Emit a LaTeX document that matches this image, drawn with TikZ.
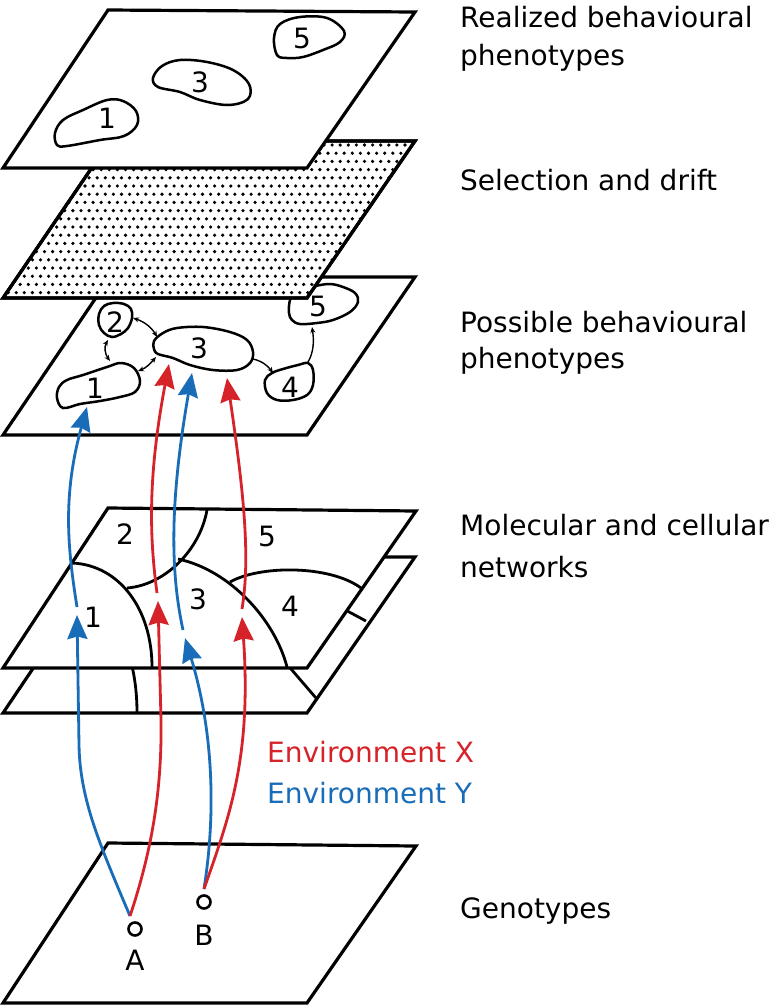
\documentclass[tikz,border=0pt]{standalone}
\usepackage{fontspec}
\setmainfont{DejaVu Sans}
\usetikzlibrary{arrows.meta}
\definecolor{envred}{RGB}{214,35,42}
\definecolor{envblue}{RGB}{25,108,184}
\tikzset{
  plane/.style={draw=black, line width=3.2pt, fill=white, line join=miter},
  blob/.style={draw=black, line width=2.5pt, fill=white},
  netline/.style={draw=black, line width=2.8pt},
  digit/.style={font=\fontsize{28}{32}\selectfont, inner sep=0pt},
  lab/.style={font=\fontsize{28}{32}\selectfont, anchor=base west, inner sep=0pt},
  envarrow/.style={line width=2.8pt, -{Stealth[length=24pt,width=20pt,inset=2.5pt]}},
  xarr/.style={envarrow, draw=envred},
  yarr/.style={envarrow, draw=envblue},
  thinline/.style={line width=1.4pt, draw=black},
  onehead/.style={thinline, -{Stealth[length=6pt,width=5pt]}},
  twoheads/.style={thinline, {Stealth[length=6pt,width=5pt]}-{Stealth[length=6pt,width=5pt]}},
  genedot/.style={draw=black, circle, line width=2.6pt, minimum size=13pt, inner sep=0pt, fill=white}
}
\begin{document}
\begin{tikzpicture}[x=1pt,y=-1pt]
\useasboundingbox[fill=white] (0,0) rectangle (770,1005);

% ---------------- Plane 3: possible behavioural phenotypes
\draw[plane] (110,277) -- (415,277) -- (307,435) -- (3,435) -- cycle;
% blob 5 (partly hidden by dotted plane)
\draw[blob] plot[smooth cycle, tension=0.6] coordinates {(290,300) (289,313) (292,320) (300,324) (317,323) (333,320) (350,312) (358,302) (355,293) (343,287) (330,284) (315,286) (296,290)};
\node[digit] (q5) at (318,306) {5};
% blob 2
\draw[blob] plot[smooth cycle, tension=0.6] coordinates {(99,314) (104,306) (113,303) (124,304) (131,309) (132,318) (128,328) (121,334) (112,337) (104,333) (99,325)};
\node[digit] (q2) at (115,322) {2};
% blob 1
\draw[blob] plot[smooth cycle, tension=0.6] coordinates {(57,398) (59,387) (67,380) (83,375) (107,367) (121,363) (134,368) (140,381) (135,392) (120,397) (100,401) (80,404) (63,408)};
\node[digit] (q1) at (95,388) {1};
% blob 3
\draw[blob] plot[smooth cycle, tension=0.6] coordinates {(154,349) (154,341) (163,333) (177,328) (203,327) (230,332) (247,340) (253,352) (250,363) (237,370) (213,370) (190,365) (173,358) (158,354)};
\node[digit] (q3) at (199,348) {3};
% blob 4
\draw[blob] plot[smooth cycle, tension=0.6] coordinates {(265,380) (272,373) (283,369) (298,365) (308,363) (313,370) (313,385) (307,395) (293,400) (277,400) (267,393)};
\node[digit] (q4) at (290,387) {4};
% transitions between possible phenotypes
\coordinate (t2a) at (133,318); \coordinate (t3a) at (157,337);
\coordinate (t2b) at (108,340); \coordinate (t1b) at (110,361);
\coordinate (t1c) at (138,371); \coordinate (t3c) at (156,357);
\coordinate (t3d) at (253,359); \coordinate (t4d) at (273,373);
\coordinate (t4e) at (308,362); \coordinate (t5e) at (312,327);
\draw[twoheads] (t2a) .. controls (145,322) and (152,328) .. (t3a);
\draw[twoheads] (t2b) .. controls (104,347) and (105,354) .. (t1b);
\draw[twoheads] (t1c) .. controls (146,368) and (151,363) .. (t3c);
\draw[onehead] (t3d) .. controls (262,361) and (268,366) .. (t4d);
\draw[onehead] (t4e) .. controls (314,352) and (314,340) .. (t5e);

% ---------------- Plane 2: selection and drift (dotted)
\draw[plane] (110,141) -- (415,141) -- (307,298) -- (3,298) -- cycle;
\begin{scope}
  \clip (110,141) -- (415,141) -- (307,298) -- (3,298) -- cycle;
  \foreach \r in {0,...,19} {
    \pgfmathsetmacro\yy{145+\r*8.2}
    \pgfmathsetmacro\off{mod(\r,2)*4}
    \foreach \c in {0,...,52} {
      \fill[black] (\c*8.1+\off,\yy) circle (1.8pt);
    }
  }
\end{scope}
\draw[plane, fill=none] (110,141) -- (415,141) -- (307,298) -- (3,298) -- cycle;

% ---------------- Plane 1: realized behavioural phenotypes
\draw[plane] (108,10) -- (415,12) -- (307,168) -- (3,168) -- cycle;
\draw[blob] plot[smooth cycle, tension=0.6] coordinates {(57,145) (55,133) (63,120) (83,110) (107,100) (123,101) (136,111) (137,125) (124,136) (100,140) (67,146)};
\node[digit] (r1) at (107,118) {1};
\draw[blob] plot[smooth cycle, tension=0.6] coordinates {(153,78) (162,66) (180,60) (207,62) (233,70) (249,84) (248,99) (228,105) (200,100) (180,92) (158,87)};
\node[digit] (r3) at (200,82) {3};
\draw[blob] plot[smooth cycle, tension=0.6] coordinates {(277,55) (274,38) (280,24) (300,17) (327,18) (344,31) (340,42) (323,50) (303,57) (287,58)};
\node[digit] (r5) at (302,38) {5};

% ---------------- Plane 5 (behind molecular networks)
\draw[plane] (108,557) -- (415,557) -- (307,713) -- (3,713) -- cycle;
\draw[netline] (126,645) .. controls (134,668) and (137,690) .. (137,713);
\draw[netline] (279,655) -- (316,698);
\draw[netline] (338,606) -- (366,621);

% ---------------- Plane 4: molecular and cellular networks
\draw[plane] (108,508) -- (416,511) -- (307,668) -- (3,668) -- cycle;
\draw[netline] (72,563) .. controls (120,565) and (152,610) .. (152,667);
\draw[netline] (127,588) .. controls (165,585) and (200,550) .. (207,510);
\draw[netline] (178,559) .. controls (230,570) and (275,620) .. (287,667);
\draw[netline] (230,582) .. controls (260,565) and (330,565) .. (361,588);
\node[digit] (n2) at (125,534) {2};
\node[digit] (n5) at (267,536) {5};
\node[digit] (n1) at (93,617) {1};
\node[digit] (n3) at (198,599) {3};
\node[digit] (n4) at (290,606) {4};

% ---------------- Plane 6: genotypes
\draw[plane] (108,843) -- (416,846) -- (307,1003) -- (3,1003) -- cycle;
\node[genedot] (A) at (135,929) {};
\node[genedot] (B) at (204,902) {};
\node[digit, anchor=base] (Alab) at (135,970) {A};
\node[digit, anchor=base] (Blab) at (204,945) {B};
\coordinate (Aj) at (130,916);
\coordinate (Bj) at (204,889);

% ---------------- environment-dependent paths
\coordinate (m1) at (77,615);   \coordinate (m1s) at (77,607);   \coordinate (p1) at (87,407);
\coordinate (mXa) at (158,601); \coordinate (mXas) at (157,593); \coordinate (pXa) at (169,364);
\coordinate (mYb) at (185,638); \coordinate (mYbs) at (183,630); \coordinate (pYb) at (192,373);
\coordinate (mXb) at (242,617); \coordinate (mXbs) at (242,609); \coordinate (pXb) at (227,378);

\draw[yarr] (Aj) .. controls (100,845) and (80,800) .. (79,745) -- (m1);
\draw[xarr] (Aj) .. controls (152,850) and (162,790) .. (161,720) -- (mXa);
\draw[yarr] (Bj) .. controls (218,800) and (210,720) .. (mYb);
\draw[xarr] (Bj) .. controls (228,820) and (252,760) .. (mXb);

\draw[yarr] (m1s) .. controls (68,550) and (62,497) .. (p1);
\draw[xarr] (mXas) .. controls (150,540) and (147,480) .. (pXa);
\draw[yarr] (mYbs) .. controls (170,570) and (170,500) .. (pYb);
\draw[xarr] (mXbs) .. controls (250,560) and (245,500) .. (pXb);

% ---------------- labels
\node[lab, text=envred] (envx) at (267,762) {Environment X};
\node[lab, text=envblue] (envy) at (267,803) {Environment Y};

\node[lab] (l1a) at (460,27) {Realized behavioural};
\node[lab] (l1b) at (460,65) {phenotypes};
\node[lab] (l2) at (460,190) {Selection and drift};
\node[lab] (l3a) at (460,332) {Possible behavioural};
\node[lab] (l3b) at (460,368) {phenotypes};
\node[lab] (l4a) at (460,535) {Molecular and cellular};
\node[lab] (l4b) at (460,577) {networks};
\node[lab] (l5) at (460,918) {Genotypes};
\end{tikzpicture}
\end{document}
